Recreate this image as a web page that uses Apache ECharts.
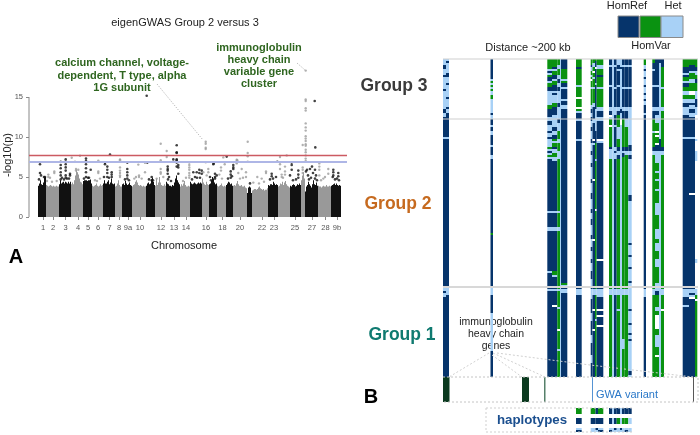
<!DOCTYPE html>
<html>
<head>
<meta charset="utf-8">
<title>eigenGWAS Group 2 versus 3</title>
<style>html,body{margin:0;padding:0;background:#fff}#main{width:700px;height:435px}</style>
<script src="https://cdn.jsdelivr.net/npm/echarts@6/dist/echarts.min.js"></script>
</head>
<body>
<div id="main"></div>
<script>
// panel A: genome position runs 0..318, chromosomes are laid out one after the other
var chromosomeStarts = [9, 17, 30, 42, 54, 63, 74, 86, 93, 103, 117, 126, 137, 151, 161, 173, 180, 188, 197, 204, 218, 223, 239, 249, 261, 272, 276, 289, 302];
var tickPositions = [14, 24, 36.5, 49, 59, 69, 80.5, 90, 99, 111, 132, 145, 157, 177, 193.5, 211, 233, 245, 266, 283, 296.5, 308];
var tickLabels = ['1', '2', '3', '4', '5', '6', '7', '8', '9a', '10', '12', '13', '14', '16', '18', '20', '22', '23', '25', '27', '28', '9b'];
var redLine = 7.66;
var blueLine = 6.96;

// height of the solid part of each chromosome, one value per position
var denseHeights = [
    [3.9, 4.2, 4.6, 4.1, 4.0, 4.3, 4.9, 5.0],
    [4.0, 3.9, 3.8, 3.9, 4.0, 3.9, 3.8, 3.9, 3.8, 3.8, 3.9, 3.8, 3.8],
    [4.1, 4.6, 4.2, 4.3, 4.4, 4.2, 4.4, 4.3, 4.2, 4.4, 4.2, 4.4],
    [4.1, 4.3, 4.1, 4.6, 5.2, 5.9, 5.6, 5.3, 4.8, 4.4, 4.3, 4.1],
    [4.5, 4.6, 4.6, 4.6, 4.5, 4.6, 4.6, 4.7, 4.2],
    [3.9, 3.8, 3.9, 4.0, 4.2, 3.9, 3.8, 3.9, 4.1, 3.9, 4.0],
    [4.2, 4.6, 4.2, 4.2, 4.4, 4.6, 4.1, 4.3, 4.8, 4.2, 4.1, 4.2],
    [3.8, 3.9, 4.2, 4.6, 4.0, 3.8, 3.8],
    [4.1, 4.2, 4.0, 4.5, 4.2, 4.0, 4.1, 4.3, 4.0, 3.9],
    [3.8, 4.0, 4.1, 4.4, 4.6, 4.3, 4.0, 3.9, 4.0, 3.9, 3.8, 3.9, 3.8, 3.8],
    [3.9, 4.2, 4.3, 4.1, 4.2, 4.7, 4.9, 4.4, 4.0],
    [3.9, 4.8, 4.0, 4.3, 5.0, 4.3, 4.0, 3.9, 3.9, 4.1, 3.9],
    [4.4, 4.2, 4.1, 3.9, 3.9, 3.8, 4.0, 3.9, 4.3, 4.8, 5.2, 4.6, 4.3, 4.1],
    [3.8, 4.1, 3.9, 4.2, 4.5, 4.0, 3.8, 3.8, 3.9, 3.8],
    [4.4, 4.2, 4.1, 4.2, 4.3, 4.2, 4.1, 4.2, 4.3, 4.2, 4.3, 4.2],
    [4.8, 4.3, 4.1, 4.0, 4.4, 4.1, 4.0],
    [4.1, 4.2, 4.6, 5.0, 4.8, 4.3, 4.1, 4.2],
    [3.9, 3.8, 3.9, 4.0, 4.2, 3.9, 3.8, 3.9, 3.8],
    [4.0, 4.2, 4.4, 4.3, 4.1, 4.2, 3.9],
    [3.9, 4.0, 3.9, 4.2, 4.5, 4.1, 3.9, 3.9, 4.0, 3.8, 3.8, 3.9, 3.7, 3.6],
    [3.0, 3.7, 3.8, 3.7, 3.0],
    [3.3, 3.4, 3.5, 3.5, 3.4, 3.5, 3.7, 3.8, 3.6, 3.5, 3.4, 3.5, 3.3, 3.4, 3.4, 3.6],
    [4.0, 3.9, 4.1, 4.1, 4.0, 4.4, 4.2, 4.0, 4.1, 4.0],
    [3.8, 3.9, 4.2, 4.1, 4.4, 4.0, 4.3, 4.5, 4.1, 3.9, 3.8, 3.7],
    [3.9, 3.8, 4.0, 4.1, 4.0, 3.8, 3.9, 4.1, 4.0, 4.2, 4.0],
    [4.6, 5.2, 5.6, 4.8],
    [3.2, 3.8, 4.0, 4.4, 4.1, 3.9, 3.7, 4.1, 4.6, 4.1, 4.0, 4.3, 3.9],
    [3.9, 3.8, 3.8, 3.7, 3.8, 3.9, 3.8, 3.8, 4.0, 3.8, 3.8, 3.9, 3.8],
    [3.9, 4.0, 4.1, 4.2, 4.0, 4.2, 4.0, 3.9, 4.0, 3.9]
];

// single variants above the solid part: [position, -log10(p)]
var blackVariants = [
    [11, 6.6], [11, 5.5], [10, 4.7], [12, 5.2], [16, 5.0], [15, 5.0],
    [31.7, 6.9], [31.7, 6.5], [31.7, 6.1], [31.7, 5.6], [31.7, 5.2], [31.7, 4.7],
    [36.7, 7.2], [36.7, 6.9], [36.7, 6.6], [36.7, 6.2], [36.7, 5.8], [36.7, 5.2], [36.7, 4.9],
    [41, 5.4], [41, 5.2], [40, 4.8], [33, 4.9], [35, 4.7], [38, 4.8],
    [57, 7.3], [57, 7.0], [57, 6.6], [57, 6.1], [57, 5.6], [57, 5.0], [61.7, 5.9], [60, 4.9], [55, 4.8], [59, 4.9],
    [76, 6.8], [76, 6.6], [78.3, 6.3], [78.3, 5.9], [78.3, 5.5], [78.3, 5.0], [82.7, 5.6], [82.7, 5.3], [82.7, 5.0], [81, 7.8], [75, 5.0], [80, 4.9],
    [98.3, 6.8], [98.3, 6.0], [98.3, 5.6], [98.3, 5.2], [98.3, 4.8], [96, 4.7], [100, 4.6],
    [117.7, 15.15], [118.3, 6.8], [116, 6.85], [122.7, 5.0], [122.7, 4.6], [120, 4.7], [124, 4.6],
    [147.7, 8.96], [147.7, 8.1], [147.7, 8.0], [147.7, 7.2], [147.7, 7.1], [147.7, 6.8], [147.7, 6.3],
    [138.7, 6.3], [138.7, 6.0], [138.7, 5.8], [138.7, 5.4], [144.3, 7.2], [149.3, 6.5], [149.3, 6.2], [149.3, 5.4], [140, 5.0], [139, 4.7], [142, 4.5],
    [164.3, 5.6], [167.7, 5.6], [170.3, 5.9], [170.3, 5.5], [172.7, 5.8], [172.7, 5.4], [163, 4.7], [166, 5.0], [168, 4.9], [171, 4.9],
    [184.3, 6.6], [184.7, 6.7], [186, 5.4], [186, 5.0], [186, 4.8], [181, 5.0], [187.7, 5.2], [182, 4.6],
    [197.7, 7.55], [204.3, 6.5], [204.3, 6.2], [204.3, 6.0], [201.7, 5.7], [201.7, 5.3], [201.7, 4.9], [199, 4.8], [203, 5.1],
    [221, 4.2], [248.3, 6.9], [242.7, 5.4], [242.7, 5.1], [247, 5.0], [241, 4.7], [244, 4.8],
    [262.7, 6.8], [262.7, 6.5], [262.7, 5.9], [261, 5.2], [269.3, 5.8], [269.3, 5.3], [269.3, 4.9], [264, 4.6], [267, 4.7],
    [285.7, 14.5], [286.3, 8.7], [283, 6.3], [281, 6.0], [278, 5.9], [286, 5.9], [277, 5.7], [284, 5.5], [279, 5.2], [287, 5.2], [282, 4.9], [286, 4.8], [280, 4.7], [288, 4.6],
    [304.3, 5.9], [304.3, 5.6], [304.3, 5.2], [309.3, 5.5], [309.3, 5.1], [303.7, 5.0], [306, 4.7], [308, 4.8], [310, 4.6]
];
var grayVariants = [
    [19.3, 5.3], [19.3, 5.0], [25.3, 5.7], [25.3, 5.5], [21, 4.9], [27.7, 4.5], [23, 4.4], [18, 4.5],
    [42.7, 7.4], [46, 6.9], [51, 7.65], [47, 6.0], [47, 5.8], [49.3, 5.9],
    [69.3, 7.05], [69.3, 5.7], [69.3, 5.5], [66, 4.6], [71, 4.8], [68, 4.5],
    [91, 7.2], [91, 7.1], [91, 6.2], [91, 5.8], [91, 5.5], [91, 5.2], [91, 5.0],
    [109.3, 6.55], [105.3, 4.8], [116, 5.6], [110, 5.2], [110, 5.0], [112.7, 4.8], [107, 5.0],
    [131.7, 9.15], [131.7, 7.1], [131.7, 6.0], [131.7, 5.6], [131.7, 5.4], [137.7, 8.25], [137.7, 7.5], [127.7, 4.8], [134.3, 5.0],
    [160.3, 6.8], [160.3, 6.5], [160.3, 6.2], [160.3, 5.9], [160.3, 5.5], [160.3, 5.2], [160.3, 4.9], [157, 4.9], [154, 4.5],
    [176.7, 9.4], [176.7, 9.15], [176.7, 8.65], [176.7, 8.5], [176.7, 6.85], [179.3, 6.0], [179.3, 5.6], [174.3, 5.6], [177.7, 5.2],
    [194.3, 7.45], [192, 6.2], [192, 5.8], [195.7, 6.6], [190.3, 5.3], [193, 4.8],
    [218.7, 9.4], [218.7, 8.0], [218.7, 7.6], [218.7, 6.9], [207.7, 7.15], [207.7, 7.0], [207.7, 6.8], [207.7, 6.7], [208.3, 7.1],
    [212.7, 6.0], [217, 5.6], [217, 5.0], [209.3, 5.5], [214, 4.9], [211, 4.8],
    [237, 5.7], [237, 5.5], [228.3, 5.0], [232.7, 4.8], [224.3, 4.3], [235, 4.4], [230, 4.2],
    [251, 7.5], [251, 6.6], [251, 6.0], [257.7, 7.7], [256, 6.3], [256, 5.7], [256, 5.3], [252.7, 5.3], [252.7, 5.0], [254, 4.9],
    [276.7, 18.3], [276.7, 14.7], [276.7, 14.5], [276.7, 13.6], [276.7, 13.3], [276.7, 11.7], [276.7, 11.2], [276.7, 10.8], [276.7, 10.1],
    [276.7, 9.8], [276.7, 9.5], [276.7, 9.1], [276.7, 8.9], [276.7, 8.4], [276.7, 8.1], [276.7, 7.7], [276.7, 7.3], [276.7, 7.0],
    [273.7, 9.0], [273.7, 6.2], [273.7, 5.9], [273.7, 5.5],
    [290.3, 6.7], [290.3, 6.3], [290.3, 5.9], [290.3, 5.2], [299.3, 6.0], [299.3, 5.4], [294.3, 4.8], [296, 5.0], [292, 4.6]
];

// panel B: one string per variant column, "G5 L6" means green up to row 5, light blue up to row 6
// N HomRef, G HomVar, L Het, W missing
var columnStarts = [0, 3, 47.5, 104.3, 109, 114.3, 117, 118, 133, 147.7, 149.5, 152, 153.7, 166, 169.3, 171, 173.7, 177, 179, 181.7, 185.3, 200.7, 209.3, 212, 216, 218, 239.7, 246, 252];
var columnEnds = [3, 6, 50, 109, 114.3, 117, 118, 124.3, 138.7, 149.5, 152, 153.7, 160.3, 169.3, 171, 173.7, 177, 179, 181.7, 185.3, 188.7, 203, 212, 216, 218, 221, 246, 252, 254.3];
var columnCalls = [
    'L3 N5 L8 N9 L15 N16 L25 N27 L29 N39 L40 N114 L116 N117 L119 N159',
    'L1 N2 L7 N9 L12 N13 L19 N20 L24 N25 L27 N39 L40 N114 L118 N159',
    'N10 L11 G12 L13 G14 L15 G16 L18 G20 L27 N28 L30 N33 L34 N36 L38 N43 L44 N48 L50 N87 G88 N114 L118 N127 L146 N159',
    'G5 L6 N7 L8 G9 N11 L12 G14 N16 L23 G25 N29 L31 N33 L36 N37 L39 N40 L44 G45 L46 N47 L48 G49 L50 N76 L77 N84 L86 N106 L107 N115 L116 N159',
    'G4 N5 L6 G8 N10 L11 G13 N16 L17 N18 L22 G24 N28 L34 N36 L38 N40 G41 L42 G44 N45 L47 G49 L51 N76 L77 N84 L86 N106 G108 L109 N115 L116 N123 W124 N159',
    'G3 L5 G8 L10 N12 L14 N16 L22 N24 L30 N32 L36 G40 L42 G46 L50 G76 L77 G84 L86 G115 L116 G124 L125 G135 W136 G145 L146 G159',
    'L159',
    'N5 G10 L11 G12 N14 L15 N20 L21 N23 L25 N112 G113 L114 N115 L117 N159',
    'G4 N5 G13 L14 G19 W20 G24 W25 G26 L27 N30 L31 N40 L41 N115 L118 N159',
    'G3 N4 L6 G8 L9 G10 W11 G14 L15 G23 L25 N27 L29 N31 L34 N36 L40 N42 L46 N48 L52 N54 L60 N62 L67 N70 L75 N77 L80 N83 L88 N90 L94 N96 L100 N102 L106 N110 L114 N115 L120 N127 L131 N138 L142 N148 L152 N159',
    'G2 L4 G6 W7 G9 L10 G14 L15 G22 L24 N30 L32 N40 W41 N42 L43 N60 W61 N90 W91 N115 L118 N125 W126 N135 W136 N159',
    'G1 N4 W5 N12 L13 N25 L36 N42 G50 L51 G75 W76 G115 L118 G130 L131 G159',
    'G3 L5 G8 N9 G14 L15 G24 L26 N29 L31 N40 W41 L42 N100 W101 N115 L119 N125 W126 N128 W129 N133 W134 N159',
    'N3 L4 N13 L14 N24 L26 N28 W29 L30 G33 W34 G44 N45 L50 G115 L118 G159',
    'L159',
    'N3 L4 N14 L15 N24 L28 N33 L34 N44 L46 N47 L50 N115 L118 N159',
    'L3 N5 L6 N13 L14 N24 L26 N28 G34 L40 G44 N46 L48 N50 G115 L118 G125 L126 G159',
    'L4 N5 L25 N27 L30 W33 L159',
    'N3 L4 N14 L15 N24 L26 N30 G44 N46 L47 N49 G115 L118 G140 L145 G159',
    'N3 L4 N14 L15 N24 L26 N30 L34 G44 N46 L48 G115 L118 G159',
    'N3 L4 N14 L15 N24 L43 N46 L48 N50 L68 N71 L92 N93 L98 N99 L104 N105 L111 N112 L125 N126 L132 N133 L137 N138 L140 N141 L156 N158 L159',
    'G3 L5 N6 L9 N10 L13 N14 L17 N18 L20 N21 L23 N27 L28 N115 L119 N159',
    'G2 N5 L6 N13 L14 N24 L26 N30 G36 L37 G44 N46 L48 G115 L118 G159',
    'N13 L14 N24 L26 N28 L32 G36 W37 G38 W39 G42 W43 N46 L52 G56 L57 G60 L61 G65 L66 G72 L78 G85 L90 G92 L96 G100 L104 G112 L116 N118 G124 L126 G128 W135 G138 L144 G148 W149 G159',
    'N2 L40 N46 L159',
    'N4 G14 L15 G24 L26 G44 N46 L48 G115 L118 G125 W126 G159',
    'G4 N7 L8 N9 G11 L12 N14 G16 L18 G20 L22 N24 L28 N39 L40 N115 L119 N123 L124 N159',
    'G3 N6 L7 G10 L12 G16 W18 G20 L22 N23 L25 N27 L29 N39 L40 N67 W68 N115 L117 N118 L119 W120 N159',
    'G4 N6 L8 G10 N12 G16 L20 N24 L28 W40 L41 W46 L51 W100 L102 W115 L118 G120 W121 G159'
];
var groupRows = [0, 30, 114]; // first row of group 3, 2 and 1

// gene track under the panel: D gene, M short gene, B GWA variant, K last variant
var geneStarts = [0, 79, 101, 149, 250];
var geneEnds = [6.5, 86, 102.5, 149.8, 250.7];
var geneCalls = ['D', 'D', 'M', 'B', 'K'];

// three haplotypes, same column scale as the panel
var haplotypeStarts = [133, 147.7, 152.5, 155, 166, 169.3, 171, 173.7, 177, 179, 181.7, 185.3];
var haplotypeEnds = [138.7, 152.5, 155, 160.3, 169.3, 171, 173.7, 177, 179, 181.7, 185.3, 188.7];
var haplotypeCalls = [
    'G3 W5 N8 W10 L11 N12',
    'G3 W5 N8 W10 L12',
    'N3 W5 N8 W10 N11 L12',
    'G3 W5 N8 W10 L11 N12',
    'N3 W5 N8 W10 L11 N12',
    'L3 W5 L8 W10 L12',
    'N3 W5 N8 W10 N11 L12',
    'N3 W5 G8 W10 L12',
    'L3 W5 L8 W10 N11 L12',
    'N3 W5 G8 W10 L12',
    'N3 W5 G8 W10 L11 N12',
    'N3 W5 L8 W10 L12'
];

var palette = {N: '#06346b', G: '#0a9211', L: '#a8d1f6', W: '#ffffff', K: '#111111', A: '#999999', D: '#0b3a1f', M: '#56806a', B: '#2a78c8'};
var paletteCodes = Object.keys(palette);

// turn "G5 L6" strings into [start, end, rowStart, rowEnd, colour index]
function spansFromCalls(starts, ends, calls) {
    var spans = [];
    calls.forEach(function (call, i) {
        var row = 0;
        call.split(' ').forEach(function (token) {
            var end = +token.slice(1);
            spans.push([starts[i], ends[i], row, end, paletteCodes.indexOf(token[0])]);
            row = end;
        });
    });
    return spans;
}

var denseSpans = [];
denseHeights.forEach(function (heights, c) {
    heights.forEach(function (h, i) {
        var x = chromosomeStarts[c] + i;
        denseSpans.push([x, x + 1, 0, h, paletteCodes.indexOf(c % 2 ? 'A' : 'K')]);
    });
});

var geneSpans = geneStarts.map(function (s, i) {
    return [s, geneEnds[i], 0, 1, paletteCodes.indexOf(geneCalls[i])];
});

function renderSpan(params, api) {
    var a = api.coord([api.value(0), api.value(2)]);
    var b = api.coord([api.value(1), api.value(3)]);
    return {
        type: 'rect',
        shape: {
            x: Math.min(a[0], b[0]),
            y: Math.min(a[1], b[1]),
            width: Math.abs(b[0] - a[0]),
            height: Math.abs(b[1] - a[1])
        },
        style: {fill: palette[paletteCodes[api.value(4)]]}
    };
}

function spanSeries(spans, axisIndex) {
    return {
        type: 'custom',
        xAxisIndex: axisIndex,
        yAxisIndex: axisIndex,
        renderItem: renderSpan,
        encode: {x: [0, 1], y: [2, 3]},
        silent: true,
        data: spans
    };
}

function label(text, x, y, size, color, bold, align, extra) {
    var style = {
        text: text, x: 0, y: 0, fill: color,
        font: (bold ? 'bold ' : '') + size + 'px "Liberation Sans"',
        textAlign: align || 'center', textVerticalAlign: 'middle'
    };
    var el = {type: 'text', x: x, y: y, style: style, silent: true};
    if (extra) Object.assign(el, extra);
    return el;
}

function dashed(points, color, dash) {
    return {
        type: 'polyline', silent: true, z: 20,
        shape: {points: points},
        style: {stroke: color, lineWidth: 1, lineDash: dash, fill: null}
    };
}

function legendBox(x, w, fill) {
    return {
        type: 'rect', silent: true,
        shape: {x: x, y: 16, width: w, height: 21.5},
        style: {fill: fill, stroke: '#8a8a8a', lineWidth: 1}
    };
}

var greenText = '#2f6620';

var myChart = echarts.init(document.getElementById('main'), null, {renderer: 'canvas'});

var option = {
    animation: false,
    textStyle: {fontFamily: '"Liberation Sans"'},
    grid: [
        {left: 29, top: 57, width: 318, height: 160},
        {left: 443, top: 59, width: 255, height: 318},
        {left: 443, top: 377, width: 255, height: 25},
        {left: 443, top: 408, width: 255, height: 24}
    ],
    xAxis: [
        {
            type: 'value', gridIndex: 0, min: 0, max: 318,
            splitLine: {show: false},
            axisLine: {show: false},
            axisTick: {show: true, length: 3, customValues: tickPositions, lineStyle: {color: '#888'}},
            axisLabel: {
                show: true, fontSize: 7.5, color: '#555', margin: 7,
                customValues: tickPositions,
                formatter: function (v) {
                    return tickLabels[tickPositions.indexOf(v)];
                }
            }
        },
        {type: 'value', gridIndex: 1, min: 0, max: 255, show: false},
        {type: 'value', gridIndex: 2, min: 0, max: 255, show: false},
        {type: 'value', gridIndex: 3, min: 0, max: 255, show: false}
    ],
    yAxis: [
        {
            type: 'value', gridIndex: 0, min: 0, max: 20,
            splitLine: {show: false},
            axisLine: {show: false},
            axisTick: {show: true, length: 3, customValues: [0, 5, 10, 15], lineStyle: {color: '#888'}},
            axisLabel: {show: true, fontSize: 7.5, color: '#555', margin: 6, customValues: [0, 5, 10, 15]}
        },
        {type: 'value', gridIndex: 1, min: 0, max: 159, inverse: true, show: false},
        {type: 'value', gridIndex: 2, min: 0, max: 1, inverse: true, show: false},
        {type: 'value', gridIndex: 3, min: 0, max: 12, inverse: true, show: false}
    ],
    series: [
        spanSeries(denseSpans, 0),
        {
            type: 'scatter', xAxisIndex: 0, yAxisIndex: 0, silent: true,
            symbolSize: 2.4, itemStyle: {color: '#9c9c9c'},
            data: grayVariants
        },
        {
            type: 'scatter', xAxisIndex: 0, yAxisIndex: 0, silent: true,
            symbolSize: 2.6, itemStyle: {color: '#111'},
            data: blackVariants,
            markLine: {
                silent: true, symbol: 'none', label: {show: false},
                data: [
                    {yAxis: redLine, lineStyle: {color: '#cc5a62', width: 1.3, type: 'solid'}},
                    {yAxis: blueLine, lineStyle: {color: '#aeb6e6', width: 2.2, type: 'solid'}}
                ]
            }
        },
        {
            type: 'line', xAxisIndex: 0, yAxisIndex: 0, silent: true, symbol: 'none',
            clip: false, lineStyle: {color: '#888', width: 1},
            data: [[0, 0], [0, 15]]
        },
        spanSeries(spansFromCalls(columnStarts, columnEnds, columnCalls), 1),
        {
            type: 'line', xAxisIndex: 1, yAxisIndex: 1, silent: true, symbol: 'none',
            clip: false, lineStyle: {color: '#cfcfcf', width: 1},
            data: [[0, groupRows[0]], [255, groupRows[0]]]
        },
        {
            type: 'line', xAxisIndex: 1, yAxisIndex: 1, silent: true, symbol: 'none',
            clip: false, lineStyle: {color: '#cfcfcf', width: 1},
            data: [[0, groupRows[1]], [255, groupRows[1]]]
        },
        {
            type: 'line', xAxisIndex: 1, yAxisIndex: 1, silent: true, symbol: 'none',
            clip: false, lineStyle: {color: '#d8d8d8', width: 2},
            data: [[0, groupRows[2]], [255, groupRows[2]]]
        },
        spanSeries(geneSpans, 2),
        spanSeries(spansFromCalls(haplotypeStarts, haplotypeEnds, haplotypeCalls), 3)
    ],
    graphic: {
        elements: [
            label('eigenGWAS Group 2 versus 3', 185, 23, 11, '#222'),
            label('Chromosome', 184, 246, 11, '#222'),
            label('-log10(p)', 8, 155, 11, '#222', false, 'center', {rotation: Math.PI / 2}),
            label('A', 16, 257, 20, '#000', true),
            label('B', 371, 397, 20, '#000', true),

            label('calcium channel, voltage-', 122, 63, 11, greenText, true),
            label('dependent, T type, alpha', 122, 76, 11, greenText, true),
            label('1G subunit', 122, 88, 11, greenText, true),
            label('immunoglobulin', 259, 48, 11, greenText, true),
            label('heavy chain', 259, 60, 11, greenText, true),
            label('variable gene', 259, 72, 11, greenText, true),
            label('cluster', 259, 84, 11, greenText, true),
            dashed([[157, 84], [203, 140]], '#aaa', [1, 1.5]),
            dashed([[297, 63], [305, 70]], '#aaa', [1, 1.5]),

            label('Group 3', 394, 86, 17.5, '#3a3a3a', true),
            label('Group 2', 398, 204, 17.5, '#c66a1f', true),
            label('Group 1', 402, 335, 17.5, '#0f7a70', true),

            label('HomRef', 627, 6, 11, '#222'),
            label('Het', 673, 6, 11, '#222'),
            label('HomVar', 651, 46, 11, '#222'),
            legendBox(618, 21, palette.N),
            legendBox(640, 21, palette.G),
            legendBox(661, 22, palette.L),
            label('Distance ~200 kb', 528, 48, 11, '#222'),

            dashed([[489, 353], [449, 377]], '#d0d0d0', [2, 2]),
            dashed([[492, 355], [522, 377]], '#d0d0d0', [2, 2]),
            dashed([[493, 353], [545, 377]], '#d0d0d0', [2, 2]),
            dashed([[497, 353], [590, 365], [693, 377]], '#d0d0d0', [2, 2]),
            dashed([[443, 377], [698, 377], [698, 402], [443, 402]], '#c4c4c4', [2, 2]),
            dashed([[486, 408], [632, 408]], '#d0d0d0', [2, 2]),
            dashed([[486, 432], [632, 432]], '#d0d0d0', [2, 2]),
            dashed([[486, 408], [486, 432]], '#d0d0d0', [2, 2]),
            {
                type: 'group', z: 30, silent: true,
                children: [
                    label('immunoglobulin', 496, 322, 10.5, '#222'),
                    label('heavy chain', 496, 334, 10.5, '#222'),
                    label('genes', 496, 346, 10.5, '#222')
                ]
            },
            label('GWA variant', 596, 395, 11, palette.B, false, 'left'),
            label('haplotypes', 532, 420, 13.3, '#1b4f8f', true)
        ]
    }
};

myChart.setOption(option);
</script>
</body>
</html>
